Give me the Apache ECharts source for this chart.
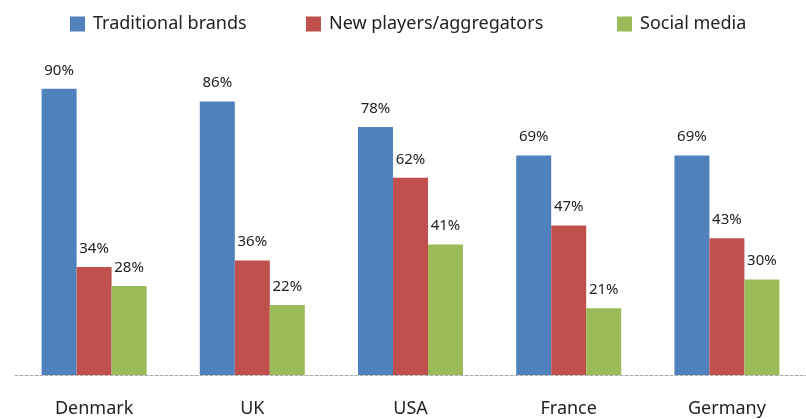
<!DOCTYPE html>
<html>
<head>
<meta charset="utf-8">
<script src="https://cdn.jsdelivr.net/npm/echarts@6/dist/echarts.min.js"></script>
<style>html,body{margin:0;padding:0;background:#fff}#c{width:806px;height:419px}</style>
</head>
<body>
<div id="c"></div>
<script>
var categories = ['Denmark', 'UK', 'USA', 'France', 'Germany'];
var seriesNames = ['Traditional brands', 'New players/aggregators', 'Social media'];
var traditional = [90, 86, 78, 69, 69];
var newPlayers = [34, 36, 62, 47, 43];
var social = [28, 22, 41, 21, 30];
var colors = ['#4F81BD', '#C0504D', '#9BBB59'];
var values = [traditional, newPlayers, social];
var legendLeft = [65, 301, 612];

var FONT = '"Noto Sans", "Open Sans", sans-serif';
var chart = echarts.init(document.getElementById('c'));

var legends = seriesNames.map(function (n, i) {
  return {
    data: [n], left: legendLeft[i], top: 10, orient: 'horizontal',
    itemWidth: 15, itemHeight: 15, icon: 'rect', selectedMode: false,
    textStyle: { fontFamily: FONT, fontSize: 18, color: '#222', lineHeight: 16, padding: [0, 0, 0, 3] }
  };
});

var series = seriesNames.map(function (n, i) {
  return {
    name: n, type: 'bar', data: values[i], barWidth: 35, barGap: '0%',
    itemStyle: { color: colors[i] },
    label: {
      show: true, position: 'top', distance: 11, formatter: '{c}%',
      fontFamily: FONT, fontSize: 15, color: '#222'
    }
  };
});

chart.setOption({
  animation: false,
  color: colors,
  legend: legends,
  grid: { left: 15, width: 792, top: 57, bottom: 44, containLabel: false },
  xAxis: {
    type: 'category', data: categories,
    axisTick: { show: false },
    axisLine: { lineStyle: { color: '#aaa', type: [3, 2], width: 1 } },
    axisLabel: { fontFamily: FONT, fontSize: 18, color: '#222', margin: 25 }
  },
  yAxis: { type: 'value', min: 0, max: 100, show: false, splitLine: { show: false } },
  series: series
});
</script>
</body>
</html>
